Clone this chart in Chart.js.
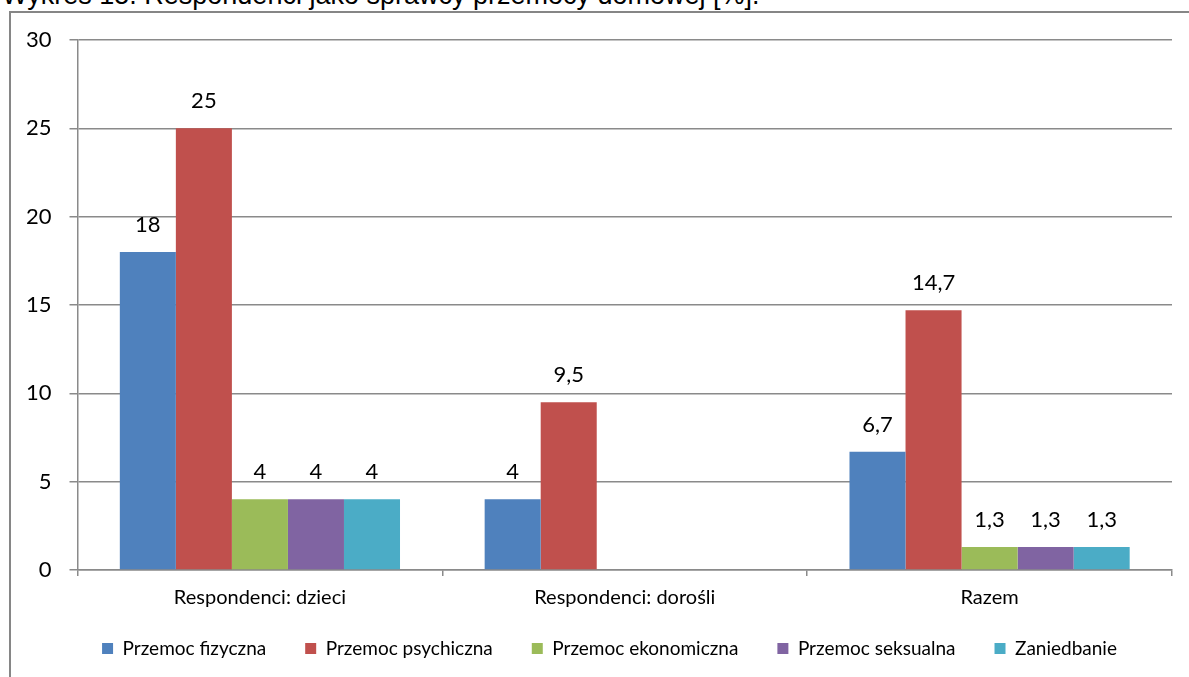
<!DOCTYPE html>
<html>
<head>
<meta charset="utf-8">
<script src="https://cdn.jsdelivr.net/npm/chart.js@4/dist/chart.umd.min.js"></script>
<style>
    html, body { margin: 0; padding: 0; width: 1189px; height: 677px; overflow: hidden; background: #fff; }
    #title { position: absolute; left: 2px; top: -18px; font-family: "Liberation Sans", Arial, sans-serif; font-size: 27px; line-height: 27px; color: #000; white-space: nowrap; }
    #frame { position: absolute; left: 9px; top: 11px; width: 1300px; height: 800px; border-left: 2px solid #868686; border-top: 2px solid #868686; }
    #graph { position: absolute; left: 0; top: 0; }
</style>
</head>
<body>
<div id="title">Wykres 15. Respondenci jako sprawcy przemocy domowej [%].</div>
<div id="frame"></div>
<canvas id="graph" width="1189" height="677"></canvas>
<script>
var categories = ["Respondenci: dzieci", "Respondenci: dorośli", "Razem"];
var seriesNames = ["Przemoc fizyczna", "Przemoc psychiczna", "Przemoc ekonomiczna", "Przemoc seksualna", "Zaniedbanie"];
var fizyczna = [18, 4, 6.7];
var psychiczna = [25, 9.5, 14.7];
var ekonomiczna = [4, null, 1.3];
var seksualna = [4, null, 1.3];
var zaniedbanie = [4, null, 1.3];
var yTicks = [0, 5, 10, 15, 20, 25, 30];
var colours = ["#4F81BD", "#C0504D", "#9BBB59", "#8064A2", "#4BACC6"];

var FONT = "Lato, 'Open Sans', sans-serif";
var LINE = "#8a8a8a";

var seriesValues = [fizyczna, psychiczna, ekonomiczna, seksualna, zaniedbanie];
var datasets = [];
for (var i = 0; i < seriesNames.length; i++) {
    datasets.push({
        label: seriesNames[i],
        data: seriesValues[i],
        backgroundColor: colours[i],
        borderWidth: 0,
        barPercentage: 1,
        categoryPercentage: 0.768
    });
}

// values above the bars, decimal comma like the original
var valueLabels = {
    id: "valueLabels",
    afterDatasetsDraw: function(chart) {
        var ctx = chart.ctx;
        ctx.save();
        ctx.font = "22px " + FONT;
        ctx.fillStyle = "#000";
        ctx.textAlign = "center";
        ctx.textBaseline = "middle";
        chart.data.datasets.forEach(function(ds, d) {
            chart.getDatasetMeta(d).data.forEach(function(bar, k) {
                var v = ds.data[k];
                if (v === null) return;
                ctx.fillText(String(v).replace(".", ","), bar.x, bar.y - 27);
            });
        });
        ctx.restore();
    }
};

// scale boxes are kept narrow so the legend centres like the original;
// widen them afterwards so tick labels are not clipped
var widenScales = {
    id: "widenScales",
    afterLayout: function(chart) {
        chart.scales.y.left = 0;
        chart.scales.x.bottom = chart.height;
    }
};

var chart = new Chart(document.getElementById("graph").getContext("2d"), {
    type: "bar",
    data: { labels: categories, datasets: datasets },
    options: {
        responsive: false,
        animation: false,
        devicePixelRatio: 1,
        layout: { padding: { left: 47, right: 17, top: 40, bottom: 9 } },
        plugins: {
            legend: {
                position: "bottom",
                labels: {
                    boxWidth: 11,
                    boxHeight: 11,
                    padding: 39,
                    color: "#000",
                    font: { family: FONT, size: 19 }
                }
            },
            tooltip: { enabled: false },
            title: { display: false }
        },
        scales: {
            x: {
                afterFit: function(scale) { scale.height = 30; },
                grid: { offset: true, drawOnChartArea: false, tickLength: 6, color: LINE, lineWidth: 1.5 },
                border: { color: LINE, width: 1.5 },
                ticks: { color: "#000", padding: 10, font: { family: FONT, size: 20 }, maxRotation: 0 }
            },
            y: {
                min: 0,
                max: 30,
                afterFit: function(scale) { scale.width = 30.5; },
                afterBuildTicks: function(scale) {
                    scale.ticks = yTicks.map(function(v) { return { value: v }; });
                },
                grid: { color: LINE, lineWidth: 1.5, tickLength: 8 },
                border: { color: LINE, width: 1.5 },
                ticks: { color: "#000", padding: 18, font: { family: FONT, size: 22 } }
            }
        }
    },
    plugins: [valueLabels, widenScales]
});
</script>
</body>
</html>
